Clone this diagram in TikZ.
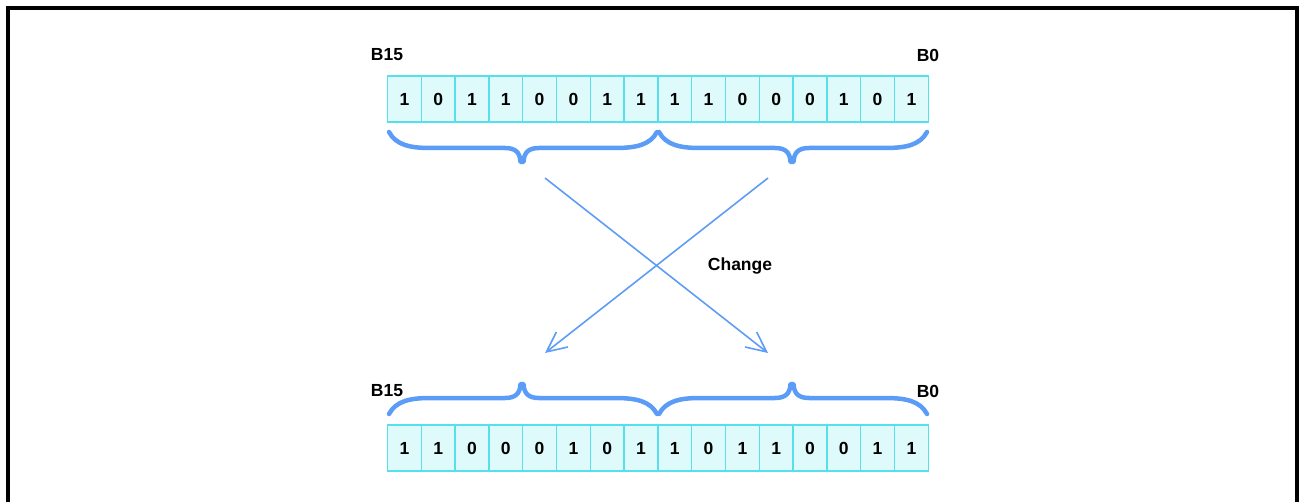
\documentclass[tikz,border=0pt]{standalone}
\usepackage{fontspec}
\setmainfont{Liberation Sans}
\usetikzlibrary{arrows.meta}
\definecolor{cellfill}{HTML}{DFFAFA}
\definecolor{celldraw}{HTML}{55E0EC}
\definecolor{braceblue}{HTML}{5B9CF6}
\definecolor{arrowblue}{HTML}{5E9CF5}
\tikzset{
  cell/.style={draw=celldraw, fill=cellfill, line width=1.4pt, minimum width=33.8pt, minimum height=46pt, inner sep=0pt, font=\bfseries\fontsize{17.5}{19}\selectfont},
  lbl/.style={font=\bfseries\fontsize{17.5}{19}\selectfont, inner sep=0pt},
  bracestyle/.style={draw=braceblue, line width=4.5pt, line cap=round, line join=round},
  swaparrow/.style={draw=arrowblue, line width=1.6pt, -{Straight Barb[length=20pt,width=19pt,line width=1.6pt]}},
  frame/.style={draw=black, line width=4pt}
}
\begin{document}
\begin{tikzpicture}[x=1pt,y=-1pt]
\useasboundingbox (0,0) rectangle (1300,502);
% frame (open at bottom)
\draw[frame] (8,502) -- (8,8) -- (1297,8) -- (1297,502);
% registers
\foreach \v [count=\i from 0] in {1,0,1,1,0,0,1,1,1,1,0,0,0,1,0,1}{
  \node[cell] (t\i) at (404.4+33.8*\i,99) {\v};
}
\foreach \v [count=\i from 0] in {1,1,0,0,0,1,0,1,1,0,1,1,0,0,1,1}{
  \node[cell] (b\i) at (404.4+33.8*\i,448) {\v};
}
% labels
\node[lbl] (tb15) at (387,55) {B15};
\node[lbl] (tb0) at (928,55) {B0};
\node[lbl] (bb15) at (387,391) {B15};
\node[lbl] (bb0) at (928,391) {B0};
\node[lbl, anchor=base] (chg) at (740,271) {Change};
% top braces
\draw[bracestyle] (389,132) .. controls (396,145) and (410,148) .. (430,148) -- (505,148)
  .. controls (515,148) and (520,152) .. (520.5,162) -- (523.5,162)
  .. controls (524,152) and (529,148) .. (539,148) -- (615,148)
  .. controls (636,148) and (650,145) .. (657,132);
\draw[bracestyle] (659,132) .. controls (666,145) and (680,148) .. (700,148) -- (775,148)
  .. controls (785,148) and (790,152) .. (790.5,162) -- (793.5,162)
  .. controls (794,152) and (799,148) .. (809,148) -- (885,148)
  .. controls (906,148) and (920,145) .. (927,132);
% bottom braces
\draw[bracestyle] (389,414) .. controls (396,401) and (410,398) .. (430,398) -- (505,398)
  .. controls (515,398) and (520,394) .. (520.5,384) -- (523.5,384)
  .. controls (524,394) and (529,398) .. (539,398) -- (615,398)
  .. controls (636,398) and (650,401) .. (657,414);
\draw[bracestyle] (659,414) .. controls (666,401) and (680,398) .. (700,398) -- (775,398)
  .. controls (785,398) and (790,394) .. (790.5,384) -- (793.5,384)
  .. controls (794,394) and (799,398) .. (809,398) -- (885,398)
  .. controls (906,398) and (920,401) .. (927,414);
% arrow end coordinates
\coordinate (hiS) at (545,178);
\coordinate (loS) at (768,178);
\coordinate (hiE) at (768,353);
\coordinate (loE) at (545,353);
\draw[swaparrow] (hiS) -- (hiE);
\draw[swaparrow] (loS) -- (loE);
\end{tikzpicture}
\end{document}
